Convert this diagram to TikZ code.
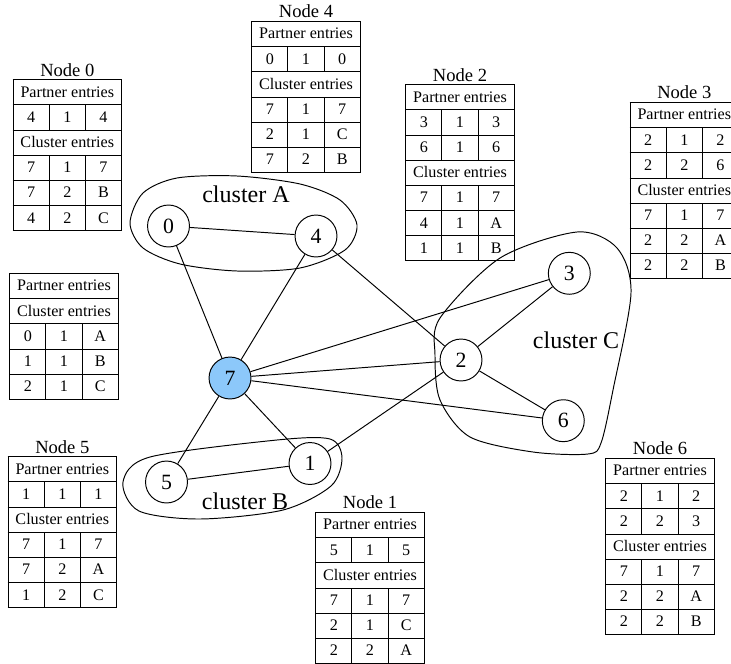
\documentclass[tikz,border=0pt]{standalone}
\usepackage{fontspec}
\setmainfont{Liberation Serif}
\usepackage{array}
\usepackage{xcolor}
\definecolor{bleuclair}{RGB}{140,200,250}
\newcolumntype{C}{>{\centering\arraybackslash}p{17.8pt}}
\newcommand{\lignepartner}{\multicolumn{3}{|c|}{Partner entries}\\ \hline}
\newcommand{\lignecluster}{\multicolumn{3}{|c|}{Cluster entries}\\ \hline}
\setlength{\tabcolsep}{2pt}
\setlength{\arrayrulewidth}{0.6pt}
\renewcommand{\arraystretch}{1.25}

\begin{document}
\begin{tikzpicture}[x=0.62pt,y=-0.62pt,
    sommet/.style={draw,circle,semithick,minimum size=26pt,inner sep=0pt,fill=white,font=\fontsize{13.5}{16}\selectfont},
    tableau/.style={anchor=north west,inner sep=0pt},
    titre/.style={anchor=south,inner sep=1.5pt,font=\fontsize{11.5}{13}\selectfont},
    groupe/.style={font=\fontsize{14.9}{17}\selectfont}]
        % Cadre
        \clip (0,0) rectangle (731,663);
        % Groupes
        \draw[semithick] plot[smooth cycle] coordinates {(130,223) (143,193) (177,178) (237,176) (300,184) (340,200) (357,225) (345,250) (300,268) (237,271) (180,264) (143,248)};
        \draw[semithick] plot[smooth cycle] coordinates {(123,482) (150,457) (277,440) (330,439) (342,458) (331,486) (283,510) (200,519) (139,511)};
        \draw[semithick] plot[smooth cycle] coordinates {(440,318) (500,258) (577,232) (617,248) (631,293) (613,390) (601,443) (588,454) (533,452) (470,437) (440,400) (435,355)};
        \node[groupe] (gA) at (246,194) {cluster A};
        \node[groupe] (gB) at (245,501) {cluster B};
        \node[groupe] (gC) at (576,340) {cluster C};
        % Sommets
        \node[sommet] (n0) at (168.5,226) {0};
        \node[sommet] (n4) at (316,236) {4};
        \node[sommet,fill=bleuclair] (n7) at (230,378) {7};
        \node[sommet] (n5) at (166.5,482) {5};
        \node[sommet] (n1) at (310,463.5) {1};
        \node[sommet] (n2) at (461,360) {2};
        \node[sommet] (n3) at (569.3,273.3) {3};
        \node[sommet] (n6) at (563.3,420.7) {6};
        % Aretes
        \foreach \a/\b in {0/4,0/7,4/7,4/2,7/3,7/2,7/6,7/5,7/1,5/1,1/2,2/3,2/6}
            \draw[semithick] (n\a) -- (n\b);
        % Tables
        \node[tableau] (t0) at (12.3,79) {\begin{tabular}{|C|C|C|}\hline
            \lignepartner 4&1&4\\ \hline
            \lignecluster 7&1&7\\ \hline 7&2&B\\ \hline 4&2&C\\ \hline\end{tabular}};
        \node[titre] (titre0) at (t0.north) {Node 0};
        \node[tableau] (t4) at (251,20.7) {\begin{tabular}{|C|C|C|}\hline
            \lignepartner 0&1&0\\ \hline
            \lignecluster 7&1&7\\ \hline 2&1&C\\ \hline 7&2&B\\ \hline\end{tabular}};
        \node[titre] (titre4) at (t4.north) {Node 4};
        \node[tableau] (t2) at (405,84) {\begin{tabular}{|C|C|C|}\hline
            \lignepartner 3&1&3\\ \hline 6&1&6\\ \hline
            \lignecluster 7&1&7\\ \hline 4&1&A\\ \hline 1&1&B\\ \hline\end{tabular}};
        \node[titre] (titre2) at (t2.north) {Node 2};
        \node[tableau] (t3) at (629.3,101.7) {\begin{tabular}{|C|C|C|}\hline
            \lignepartner 2&1&2\\ \hline 2&2&6\\ \hline
            \lignecluster 7&1&7\\ \hline 2&2&A\\ \hline 2&2&B\\ \hline\end{tabular}};
        \node[titre] (titre3) at (t3.north) {Node 3};
        \node[tableau] (t7) at (9,272.7) {\begin{tabular}{|C|C|C|}\hline
            \lignepartner
            \lignecluster 0&1&A\\ \hline 1&1&B\\ \hline 2&1&C\\ \hline\end{tabular}};
        \node[tableau] (t5) at (7.3,456) {\begin{tabular}{|C|C|C|}\hline
            \lignepartner 1&1&1\\ \hline
            \lignecluster 7&1&7\\ \hline 7&2&A\\ \hline 1&2&C\\ \hline\end{tabular}};
        \node[titre] (titre5) at (t5.north) {Node 5};
        \node[tableau] (t1) at (315,511.7) {\begin{tabular}{|C|C|C|}\hline
            \lignepartner 5&1&5\\ \hline
            \lignecluster 7&1&7\\ \hline 2&1&C\\ \hline 2&2&A\\ \hline\end{tabular}};
        \node[titre] (titre1) at (t1.north) {Node 1};
        \node[tableau] (t6) at (605,457.7) {\begin{tabular}{|C|C|C|}\hline
            \lignepartner 2&1&2\\ \hline 2&2&3\\ \hline
            \lignecluster 7&1&7\\ \hline 2&2&A\\ \hline 2&2&B\\ \hline\end{tabular}};
        \node[titre] (titre6) at (t6.north) {Node 6};
    \end{tikzpicture}
\end{document}
